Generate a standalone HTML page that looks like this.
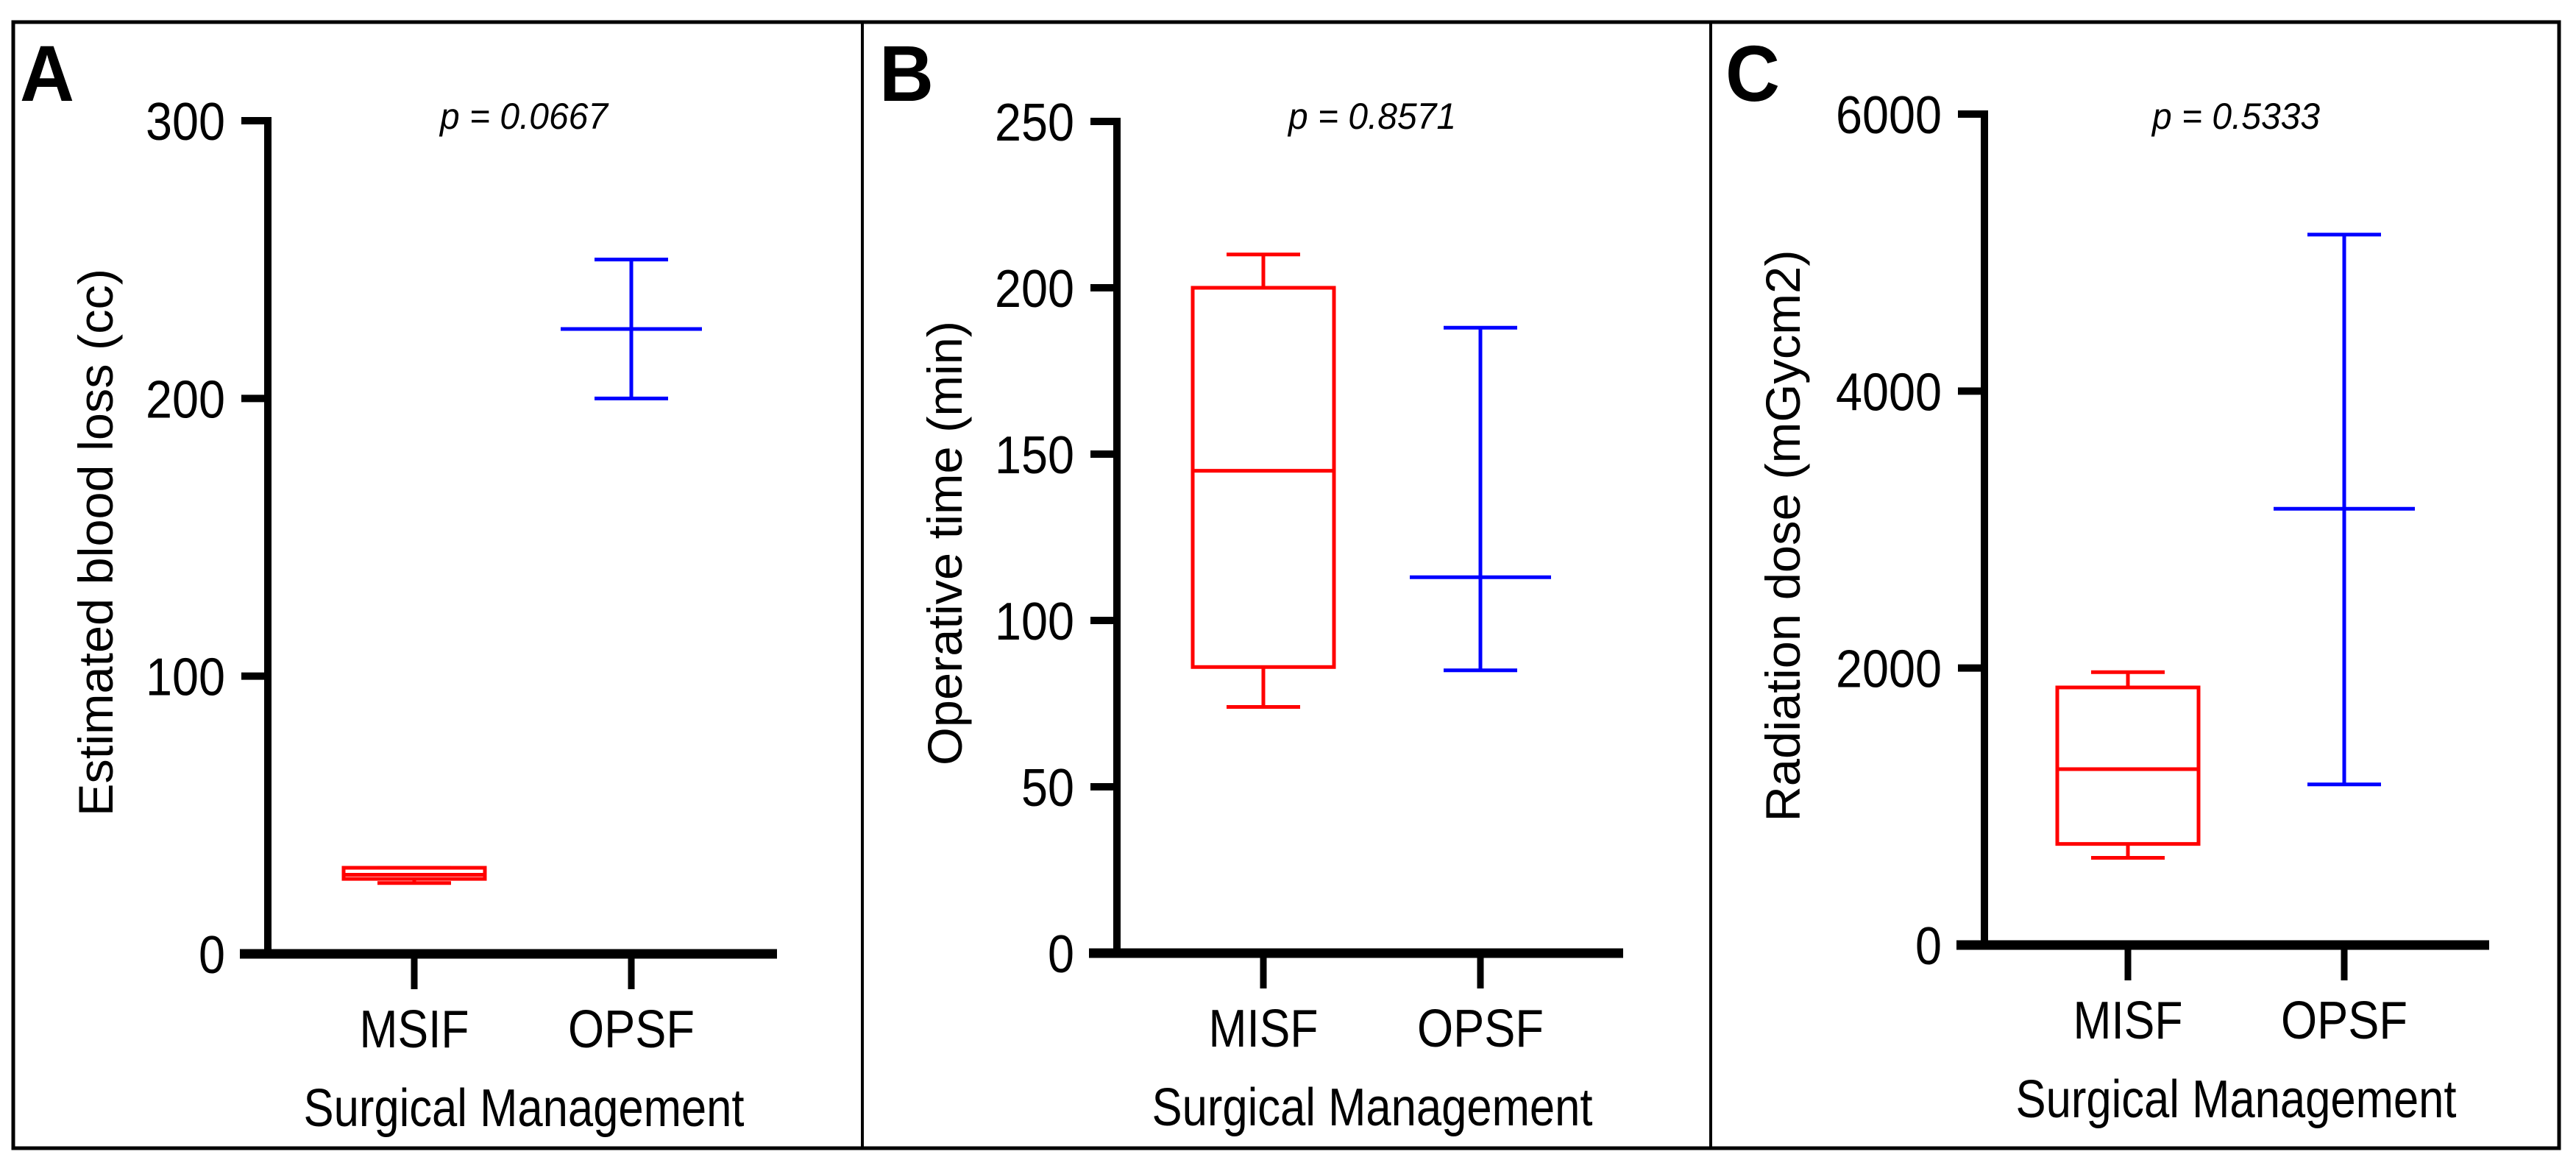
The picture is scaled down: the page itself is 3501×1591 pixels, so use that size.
<!DOCTYPE html>
<html><head><meta charset="utf-8"><style>
html,body{margin:0;padding:0;background:#fff}
svg{display:block}
text{font-family:"Liberation Sans",Arial,sans-serif;fill:#000}
</style></head><body>
<svg id="fig" width="3501" height="1591" viewBox="0 0 3501 1591" xmlns="http://www.w3.org/2000/svg">
<rect x="18" y="30" width="3460" height="1530" fill="none" stroke="#000" stroke-width="5"/>
<line x1="1172" y1="30" x2="1172" y2="1560" stroke="#000" stroke-width="4"/>
<line x1="2325" y1="30" x2="2325" y2="1560" stroke="#000" stroke-width="4"/>
</svg>
<script>
// Panel A data
const catsA = ["MSIF", "OPSF"];
const ticksA = [0, 100, 200, 300];
const maxA = [31, 250], q3A = [31, null], medA = [28.5, 225], q1A = [27, null], minA = [25.5, 200];
// Panel B data
const catsB = ["MISF", "OPSF"];
const ticksB = [0, 50, 100, 150, 200, 250];
const maxB = [210, 188], q3B = [200, null], medB = [145, 113], q1B = [86, null], minB = [74, 85];
// Panel C data
const catsC = ["MISF", "OPSF"];
const ticksC = [0, 2000, 4000, 6000];
const maxC = [1970, 5130], q3C = [1860, null], medC = [1270, 3150], q1C = [730, null], minC = [630, 1160];
const pA = "p = 0.0667", pB = "p = 0.8571", pC = "p = 0.5333";

const NS = "http://www.w3.org/2000/svg";
const svg = document.getElementById("fig");
const colors = ["#ff0000", "#0000ff"];

function mk(tag, attrs, parent) {
  const e = document.createElementNS(NS, tag);
  for (const k in attrs) e.setAttribute(k, attrs[k]);
  (parent || svg).appendChild(e);
  return e;
}

function panel(cfg) {
  const g = mk("g", {});
  
  
  const y = v => cfg.y0 - (v - cfg.vmin) / (cfg.vmax - cfg.vmin) * (cfg.y0 - cfg.yTop);
  // letter
  const L = mk("text", {x: cfg.letterX, y: 137, "font-size": 108, "font-weight": "bold", textLength: 74, lengthAdjust: "spacingAndGlyphs"}, g);
  L.textContent = cfg.id.toUpperCase();
  
  
  // y axis
  const ya = mk("line", {x1: cfg.ax, y1: y(cfg.vmax) - 5, x2: cfg.ax, y2: cfg.y0 + 6, stroke: "#000", "stroke-width": 10}, g);
  
  
  cfg.ticks.forEach(t => {
    const tl = mk("line", {x1: cfg.ax - 36, y1: y(t), x2: cfg.ax, y2: y(t), stroke: "#000", "stroke-width": 10}, g);
    
    
    const s = String(t);
    const tx = mk("text", {x: cfg.ax - 58, y: y(t) + 26, "font-size": 72, "text-anchor": "end", textLength: 36 * s.length, lengthAdjust: "spacingAndGlyphs"}, g);
    tx.textContent = s;
    
    
  });
  // x axis
  const xa = mk("line", {x1: cfg.ax - 38, y1: cfg.y0, x2: cfg.xEnd, y2: cfg.y0, stroke: "#000", "stroke-width": 13}, g);
  
  
  cfg.cats.forEach((c, i) => {
    const cx = cfg.cx[i];
    const tk = mk("line", {x1: cx, y1: cfg.y0, x2: cx, y2: cfg.y0 + 48, stroke: "#000", "stroke-width": 9}, g);
    
    
    const lb = mk("text", {x: cx, y: cfg.y0 + 127, "font-size": 72, "text-anchor": "middle", textLength: c === "OPSF" ? 172 : 149, lengthAdjust: "spacingAndGlyphs"}, g);
    lb.textContent = c;
    
    
    // box plot
    const col = colors[i];
    const bg = mk("g", {stroke: col, "stroke-width": 5, fill: "none"}, g);
    
    
    const hw = 96, cw = 50;
    mk("line", {x1: cx, y1: y(cfg.max[i]), x2: cx, y2: y(cfg.min[i])}, bg);
    mk("line", {x1: cx - cw, y1: y(cfg.max[i]), x2: cx + cw, y2: y(cfg.max[i])}, bg);
    mk("line", {x1: cx - cw, y1: y(cfg.min[i]), x2: cx + cw, y2: y(cfg.min[i])}, bg);
    if (cfg.q3[i] !== null) {
      const r = mk("rect", {x: cx - hw, y: y(cfg.q3[i]), width: 2 * hw, height: y(cfg.q1[i]) - y(cfg.q3[i]), fill: "#fff"}, bg);
      
      
    }
    const md = mk("line", {x1: cx - hw, y1: y(cfg.med[i]), x2: cx + hw, y2: y(cfg.med[i])}, bg);
    
    
  });
  // axis title
  const tt = mk("text", {x: cfg.titleX, y: cfg.y0 + 234, "font-size": 72, "text-anchor": "middle", textLength: 599, lengthAdjust: "spacingAndGlyphs"}, g);
  tt.textContent = "Surgical Management";
  
  
  const yt = mk("text", {x: 0, y: 0, "font-size": 66, "text-anchor": "middle", textLength: cfg.ylen, lengthAdjust: "spacingAndGlyphs", transform: `translate(${cfg.ytX},${cfg.ytY}) rotate(-90)`}, g);
  yt.textContent = cfg.ytitle;
  
  
  const pv = mk("text", {x: cfg.pX, y: 175, "font-size": 50, "font-style": "italic", "text-anchor": "middle", textLength: 228, lengthAdjust: "spacingAndGlyphs"}, g);
  pv.textContent = cfg.p;
  
  
}

panel({id: "a", letterX: 27, ax: 364, y0: 1296, yTop: 164, vmin: 0, vmax: 300, ticks: ticksA, cats: catsA,
  cx: [563, 858], xEnd: 1056, max: maxA, q3: q3A, med: medA, q1: q1A, min: minA, titleX: 712,
  ytitle: "Estimated blood loss (cc)", ylen: 744, ytX: 153, ytY: 737, pX: 712, p: pA});
panel({id: "b", letterX: 1195, ax: 1518, y0: 1295, yTop: 165, vmin: 0, vmax: 250, ticks: ticksB, cats: catsB,
  cx: [1717, 2012], xEnd: 2206, max: maxB, q3: q3B, med: medB, q1: q1B, min: minB, titleX: 1865,
  ytitle: "Operative time (min)", ylen: 604, ytX: 1307, ytY: 738, pX: 1865, p: pB});
panel({id: "c", letterX: 2345, ax: 2697, y0: 1284, yTop: 155, vmin: 0, vmax: 6000, ticks: ticksC, cats: catsC,
  cx: [2892, 3186], xEnd: 3383, max: maxC, q3: q3C, med: medC, q1: q1C, min: minC, titleX: 3039,
  ytitle: "Radiation dose (mGycm2)", ylen: 777, ytX: 2446, ytY: 728, pX: 3039, p: pC});
</script>
</body></html>
